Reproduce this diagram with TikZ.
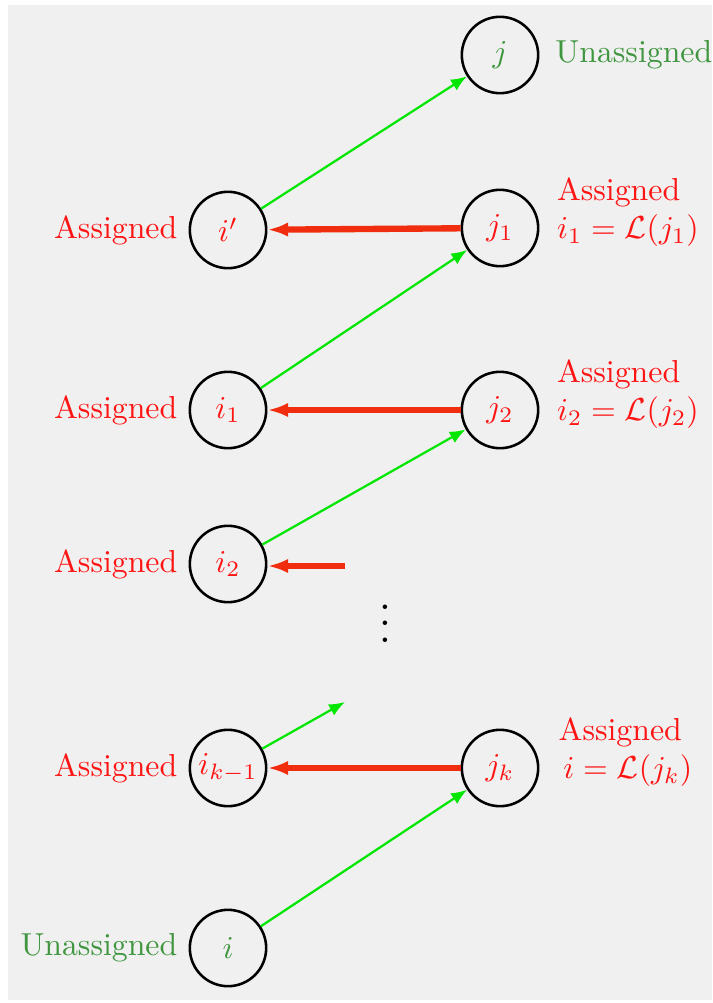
\documentclass[tikz,border=0pt]{standalone}
\usepackage{amsmath}
\usetikzlibrary{arrows.meta,positioning}
\definecolor{bggray}{RGB}{240,240,240}
\definecolor{edgegreen}{RGB}{0,230,0}
\definecolor{textgreen}{RGB}{64,150,64}
\definecolor{edgered}{RGB}{240,45,15}
\definecolor{textred}{RGB}{255,20,20}
\tikzset{
  vert/.style={circle,draw=black,line width=0.8pt,minimum size=24pt,inner sep=1pt},
  free/.style={draw=edgegreen,line width=0.7pt,-{Latex[length=5pt,width=4pt]}},
  match/.style={draw=edgered,line width=2pt,-{Latex[length=6.5pt,width=4.5pt]}},
  lab/.style={text=textred,align=left},
}
\begin{document}
\begin{tikzpicture}[x=0.01105cm,y=-0.01105cm]
      \useasboundingbox (0,0) rectangle (712,1003);
      \fill[bggray] (8,5) rectangle (712,1000);
      \draw
        (500,55) node[vert,text=textgreen] (j){$j$}
        (228,230) node[vert,text=textred] (ip){$i'$}
        (500,228) node[vert,text=textred] (j1){$j_1$}
        (228,410) node[vert,text=textred] (i1){$i_1$}
        (500,410) node[vert,text=textred] (j2){$j_2$}
        (228,564) node[vert,text=textred] (i2){$i_2$}
        (228,768) node[vert,text=textred] (ik){$i_{k-1}$}
        (500,768) node[vert,text=textred] (jk){$j_k$}
        (228,948) node[vert,text=textgreen] (i){$i$};
      \node[scale=1.33] (dots) at (385,611) {$\vdots$};
      \coordinate (r2) at (345,566);
      \coordinate (g2) at (345,702);
      % labels
      \node[right=1.5pt of j,text=textgreen] (jlab) {Unassigned};
      \node[left=0pt of i,text=textgreen] (ilab) {Unassigned};
      \node[left=0pt of ip,lab] (iplab) {Assigned};
      \node[left=0pt of i1,lab] (i1lab) {Assigned};
      \node[left=0pt of i2,lab] (i2lab) {Assigned};
      \node[left=0pt of ik,lab] (iklab) {Assigned};
      \node[right=2pt of j1,yshift=5pt,lab] (j1lab) {Assigned\\$i_1=\mathcal{L}(j_1)$};
      \node[right=2pt of j2,yshift=5pt,lab] (j2lab) {Assigned\\$i_2=\mathcal{L}(j_2)$};
      \node[right=2.5pt of jk,yshift=5pt,lab] (jklab) {Assigned\\\hspace{1.5pt}$i=\mathcal{L}(j_k)$};
      \begin{scope}
        \draw[free] (ip) to (j);
        \draw[free] (i1) to (j1);
        \draw[free] (i2) to (j2);
        \draw[free] (ik) to (g2);
        \draw[free] (i) to (jk);
        \draw[match] (j1) to (ip);
        \draw[match] (j2) to (i1);
        \draw[match] (r2) to (r2 -| i2.east);
        \draw[match] (jk) to (ik);
      \end{scope}
    \end{tikzpicture}
\end{document}
